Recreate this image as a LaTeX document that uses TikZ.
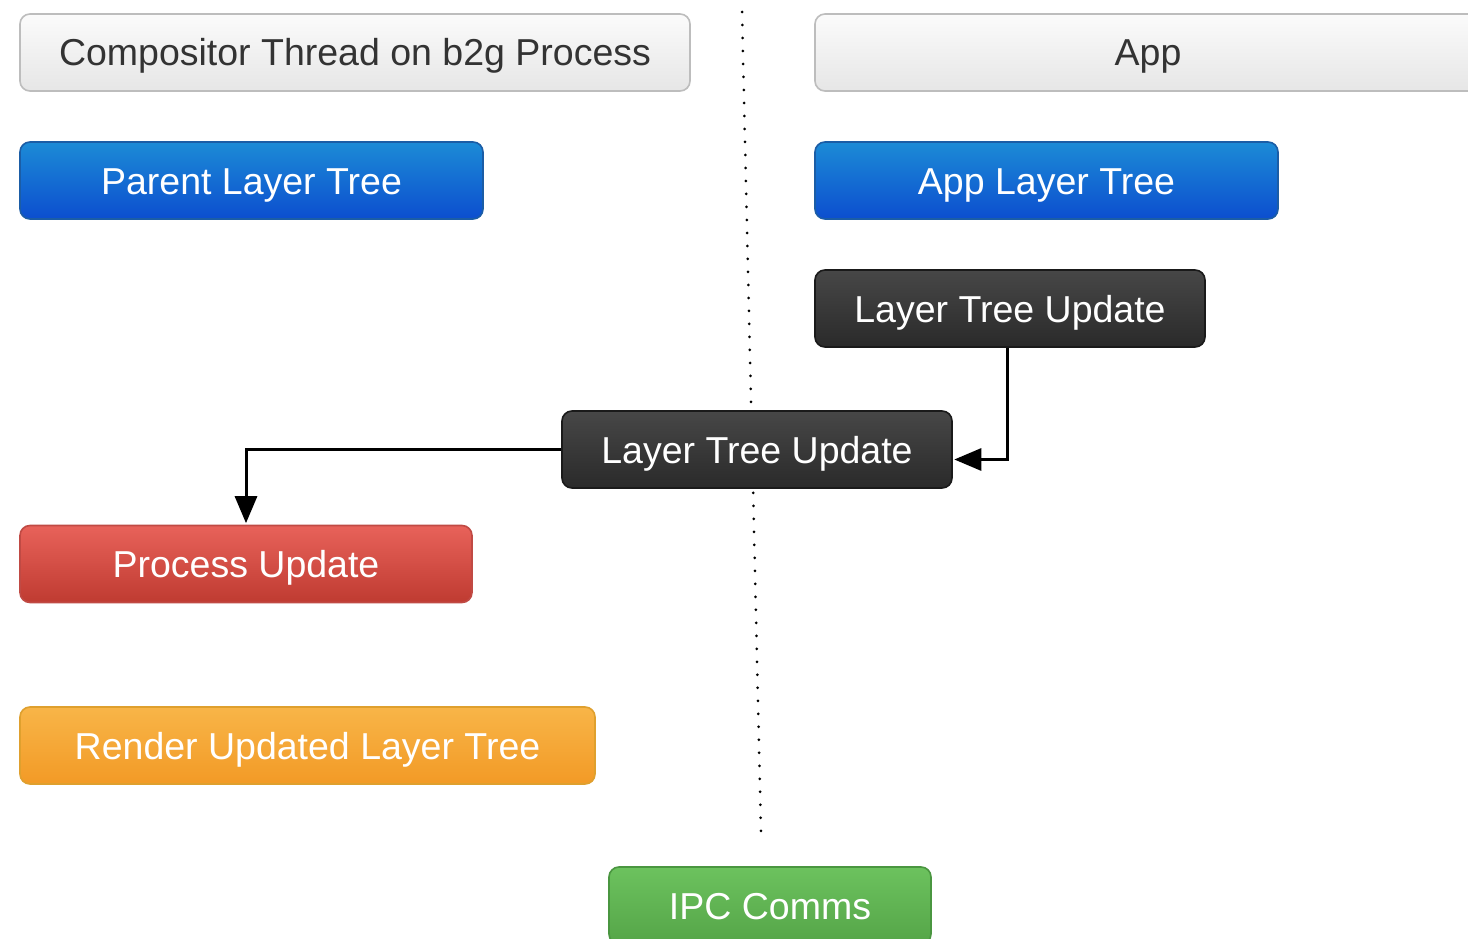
\documentclass[tikz,border=0pt]{standalone}
\usepackage{fontspec}
\setmainfont{Liberation Sans}
\usetikzlibrary{arrows.meta,shadings}

\definecolor{grayTop}{HTML}{FBFBFB}
\definecolor{grayBot}{HTML}{E6E6E6}
\definecolor{grayLine}{HTML}{BDBDBD}
\definecolor{grayText}{HTML}{333333}
\definecolor{blueTop}{HTML}{1C8BD6}
\definecolor{blueBot}{HTML}{0C4ECF}
\definecolor{blueLine}{HTML}{1B5DA6}
\definecolor{darkTop}{HTML}{474747}
\definecolor{darkBot}{HTML}{2A2A2A}
\definecolor{darkLine}{HTML}{1A1A1A}
\definecolor{redTop}{HTML}{E8625A}
\definecolor{redBot}{HTML}{BF3B31}
\definecolor{redLine}{HTML}{C04A44}
\definecolor{orangeTop}{HTML}{F8B548}
\definecolor{orangeBot}{HTML}{F29A26}
\definecolor{orangeLine}{HTML}{DFA02E}
\definecolor{greenTop}{HTML}{6CC25E}
\definecolor{greenBot}{HTML}{55A548}
\definecolor{greenLine}{HTML}{4A9640}

\begin{document}
\begin{tikzpicture}[x=1pt,y=-1pt,
  box/.style={rounded corners=10pt, line width=1.6pt, minimum height=77pt,
    inner sep=0pt, text height=27pt, text depth=0pt,
    font=\fontsize{37.5}{44}\selectfont, text=white},
  graybox/.style={box, draw=grayLine, top color=grayTop, bottom color=grayBot, text=grayText},
  bluebox/.style={box, draw=blueLine, top color=blueTop, bottom color=blueBot},
  darkbox/.style={box, draw=darkLine, top color=darkTop, bottom color=darkBot},
  redbox/.style={box, draw=redLine, top color=redTop, bottom color=redBot},
  orangebox/.style={box, draw=orangeLine, top color=orangeTop, bottom color=orangeBot},
  greenbox/.style={box, draw=greenLine, top color=greenTop, bottom color=greenBot},
  flow/.style={line width=3pt, -{Triangle[length=27pt,width=22pt]}, shorten >=1.5pt},
  divider/.style={line width=3pt, line cap=round, dash pattern=on 0pt off 13pt}
]
\clip (0,0) rectangle (1468,939);
\fill[white] (0,0) rectangle (1468,939);

% process boundary
\coordinate (dtop) at (742,12);
\coordinate (dbot) at (761,832);
\draw[divider] (dtop) -- (dbot);

% headers
\node[graybox, minimum width=670pt] (comp) at (355,52.5) {Compositor Thread on b2g Process};
\node[graybox, minimum width=666pt] (app) at (1148,52.5) {App};

% layer trees
\node[bluebox, minimum width=463pt] (plt) at (251.5,180.5) {Parent Layer Tree};
\node[bluebox, minimum width=463pt] (alt) at (1046.5,180.5) {App Layer Tree};

% updates
\node[darkbox, minimum width=390pt] (ltu1) at (1010,308.5) {Layer Tree Update};
\node[darkbox, minimum width=390pt] (ltu2) at (757,449.5) {Layer Tree Update};

\node[redbox, minimum width=452pt] (proc) at (246,564) {Process Update};
\node[orangebox, minimum width=575pt] (render) at (307.5,745.5) {Render Updated Layer Tree};
\node[greenbox, minimum width=322pt] (ipc) at (770,905.5) {IPC Comms};

% connectors
\draw[flow] ([xshift=-3pt]ltu1.south) |- ([yshift=-10pt]ltu2.east);
\draw[flow] (ltu2.west) -| (proc.north);
\end{tikzpicture}
\end{document}
